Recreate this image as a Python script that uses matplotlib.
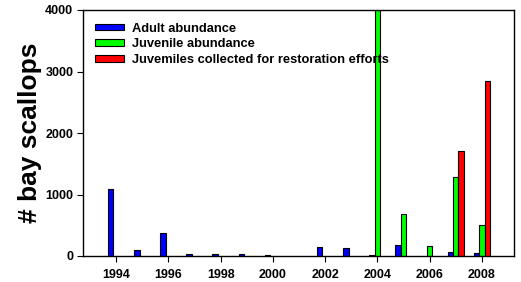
import matplotlib
matplotlib.use("Agg")
import matplotlib.pyplot as plt
import numpy as np
from matplotlib.patches import Patch

years = [1994, 1995, 1996, 1997, 1998, 1999, 2000, 2001, 2002, 2003, 2004, 2005, 2006, 2007, 2008]
adult = [1085, 98, 372, 28, 37, 28, 20, 0, 141, 125, 12, 180, 0, 60, 44]
juvenile = [0, 0, 0, 0, 0, 0, 0, 0, 0, 0, 4000, 680, 163, 1290, 500]
restoration = [0, 0, 0, 0, 0, 0, 0, 0, 0, 0, 0, 0, 0, 1707, 2845]
labels = ["Adult abundance", "Juvenile abundance", "Juvemiles collected for restoration efforts"]
colors = ["#0000ff", "#00ff00", "#ff0000"]

plt.rcParams['font.family'] = ['Liberation Sans', 'DejaVu Sans']
plt.rcParams['font.weight'] = 'bold'

fig = plt.figure(figsize=(5.21, 2.82), dpi=100)
ax = fig.add_axes([83/521, 1 - 256/282, (514-83)/521, (256-10)/282])

x = np.array(years, dtype=float)
w = 0.21
for vals, off, c in [(adult, -w, colors[0]), (juvenile, 0, colors[1]), (restoration, w, colors[2])]:
    v = np.array(vals, dtype=float)
    m = v > 0
    ax.bar(x[m] + off, v[m], width=w, color=c, edgecolor='black', linewidth=0.8)

ax.set_xlim(1992.73, 2009.23)
ax.set_ylim(0, 4000)
ax.set_xticks([1994, 1996, 1998, 2000, 2002, 2004, 2006, 2008])
ax.set_yticks([0, 1000, 2000, 3000, 4000])
ax.tick_params(direction='out', length=4, width=0.8, labelsize=9, pad=3)
ax.tick_params(axis='x', pad=5)
for lab in ax.get_xticklabels() + ax.get_yticklabels():
    lab.set_fontweight('bold')
ax.set_ylabel("# bay scallops", fontsize=19, fontweight='bold', labelpad=2)
for s in ax.spines.values():
    s.set_linewidth(1.0)

handles = [Patch(facecolor=c, edgecolor='black', linewidth=0.8) for c in colors]
leg = ax.legend(handles, labels, loc='upper left', bbox_to_anchor=(12/431, 1 - 12.5/246), frameon=False,
                prop={'size': 9.3, 'weight': 'bold'}, handlelength=2.25, handleheight=0.4,
                handletextpad=0.6, labelspacing=0.3, borderaxespad=0, borderpad=0)

fig.savefig("out.png", dpi=100)
